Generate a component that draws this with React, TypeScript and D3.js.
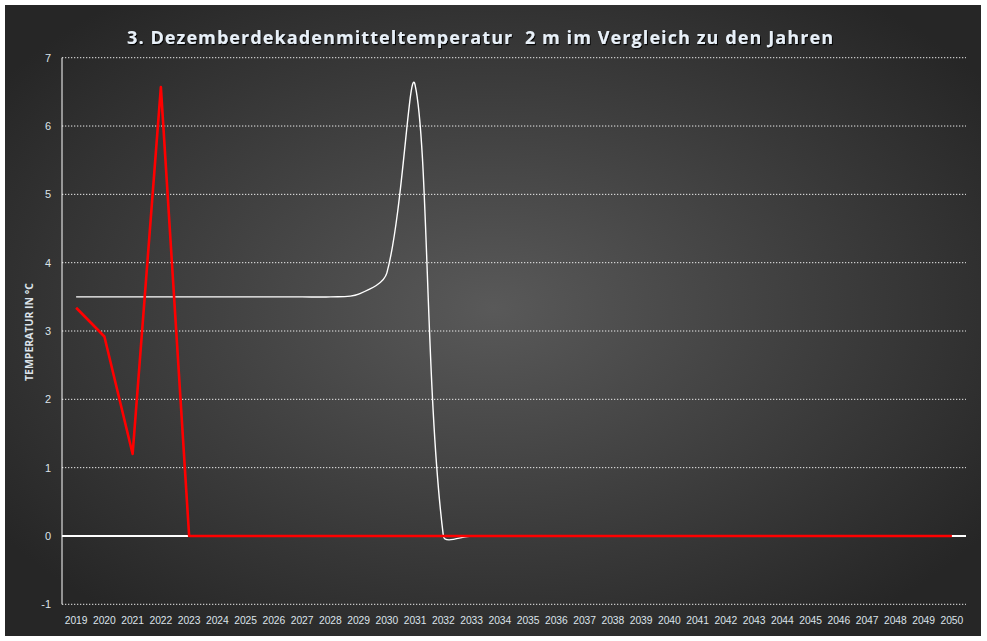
import React from "react";
import * as d3 from "d3";

const years = d3.range(2019, 2051).map(String);
// current year (red) and comparison (white, smoothed)
const currentTemps = [3.34, 2.92, 1.2, 6.57, 0, 0, 0, 0, 0, 0, 0, 0, 0, 0, 0, 0, 0, 0, 0, 0, 0, 0, 0, 0, 0, 0, 0, 0, 0, 0, 0, 0];
const compareTemps = [3.5, 3.5, 3.5, 3.5, 3.5, 3.5, 3.5, 3.5, 3.5, 3.5, 3.54, 3.85, 6.6, 0, 0, 0, 0, 0, 0, 0, 0, 0, 0, 0, 0, 0, 0, 0, 0, 0, 0, 0];
const yTicks = [-1, 0, 1, 2, 3, 4, 5, 6, 7];

const title = "3. Dezemberdekadenmitteltemperatur  2 m im Vergleich zu den Jahren";
const yTitle = "TEMPERATUR IN °C";

const W = 987;
const H = 641;
const plot = { left: 62, right: 966, top: 57.7, bottom: 604.3 };

// spreadsheet-style smoothing: bezier arms along (next - prev), sized by chord lengths
function smoothPath(pts: [number, number][]) {
  const p = d3.path();
  const n = pts.length;
  const dist = (a: [number, number], b: [number, number]) => Math.hypot(b[0] - a[0], b[1] - a[1]);
  const arms = pts.map((pt, i) => {
    const prev = pts[Math.max(0, i - 1)];
    const next = pts[Math.min(n - 1, i + 1)];
    const l1 = dist(prev, pt);
    const l2 = dist(pt, next);
    const s = l1 + l2 || 1;
    const dx = next[0] - prev[0];
    const dy = next[1] - prev[1];
    return {
      before: [pt[0] - (dx * l1) / s / 3, pt[1] - (dy * l1) / s / 3],
      after: [pt[0] + (dx * l2) / s / 3, pt[1] + (dy * l2) / s / 3],
    };
  });
  p.moveTo(pts[0][0], pts[0][1]);
  for (let i = 1; i < n; i++) {
    const a = arms[i - 1].after;
    const b = arms[i].before;
    p.bezierCurveTo(a[0], a[1], b[0], b[1], pts[i][0], pts[i][1]);
  }
  return p.toString();
}

const App: React.FC = () => {
  const x = d3
    .scaleBand<string>()
    .domain(years)
    .range([plot.left, plot.right]);
  const cx = (d: string) => (x(d) || 0) + x.bandwidth() / 2;
  const y = d3.scaleLinear().domain([-1, 7]).range([plot.bottom, plot.top]);

  const redLine = d3
    .line<number>()
    .x((_, i) => cx(years[i]))
    .y((d) => y(d));
  const whitePts = compareTemps.map((v, i) => [cx(years[i]), y(v)] as [number, number]);

  const labelColor = "#dce3ea";

  return (
    <svg
      width={W}
      height={H}
      style={{ position: "absolute", left: 0, top: 0, display: "block" }}
    >
      <defs>
        <radialGradient id="bg" cx="50%" cy="48%" r="62%">
          <stop offset="0%" stopColor="#595959" />
          <stop offset="100%" stopColor="#262626" />
        </radialGradient>
        <filter id="shadow" x="-5%" y="-30%" width="110%" height="160%">
          <feDropShadow dx="1" dy="1.2" stdDeviation="0.4" floodColor="#000" floodOpacity="0.9" />
        </filter>
      </defs>
      <rect x={0} y={0} width={W} height={H} fill="#ffffff" />
      <rect x={5} y={5} width={976} height={631} fill="url(#bg)" />

      {/* title */}
      <text
        x={480}
        y={43.5}
        textAnchor="middle"
        fill="#e8f0f8"
        fontFamily="'Open Sans', sans-serif"
        fontWeight="bold"
        fontSize={18}
        textLength={706}
        lengthAdjust="spacing"
        filter="url(#shadow)"
        style={{ whiteSpace: "pre" }}
      >
        {title}
      </text>

      {/* gridlines */}
      {yTicks
        .filter((t) => t !== 0)
        .map((t) => (
          <line
            key={"g" + t}
            x1={plot.left}
            x2={plot.right}
            y1={y(t)}
            y2={y(t)}
            stroke="#ffffff"
            strokeWidth={1}
            strokeDasharray="1.3,1.7"
            opacity={0.9}
          />
        ))}

      {/* y tick labels */}
      {yTicks.map((t) => (
        <text
          key={"yl" + t}
          x={51}
          y={y(t) + 4}
          textAnchor="end"
          fill={labelColor}
          fontFamily="'Liberation Sans', Arial, sans-serif"
          fontSize={11}
        >
          {t}
        </text>
      ))}

      {/* y axis line */}
      <line x1={plot.left} x2={plot.left} y1={plot.top} y2={plot.bottom} stroke="#ffffff" strokeWidth={1} />

      {/* x tick labels */}
      {years.map((yr) => (
        <text
          key={"xl" + yr}
          x={cx(yr)}
          y={624}
          textAnchor="middle"
          fill={labelColor}
          fontFamily="'Liberation Sans', Arial, sans-serif"
          fontSize={10.3}
        >
          {yr}
        </text>
      ))}

      {/* y axis title */}
      <text
        transform={`translate(33,${332}) rotate(-90)`}
        textAnchor="middle"
        fill={labelColor}
        fontFamily="'Open Sans', sans-serif"
        fontWeight="bold"
        fontSize={10.5}
      >
        {yTitle}
      </text>

      {/* zero axis */}
      <line x1={plot.left} x2={plot.right} y1={y(0)} y2={y(0)} stroke="#ffffff" strokeWidth={2.2} />

      {/* series */}
      <path d={smoothPath(whitePts)} fill="none" stroke="#ffffff" strokeWidth={1.4} />
      <path d={redLine(currentTemps) || ""} fill="none" stroke="#ff0000" strokeWidth={2.6} strokeLinejoin="round" />
    </svg>
  );
};

export default App;
